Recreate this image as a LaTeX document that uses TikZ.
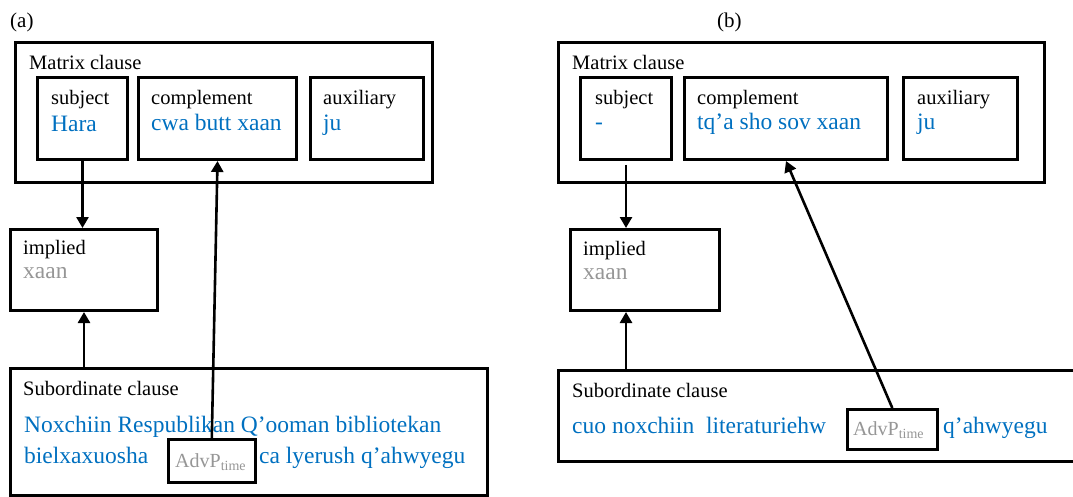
\documentclass[tikz,border=0pt]{standalone}
\usepackage{fontspec}
\setmainfont{Liberation Serif}
\usetikzlibrary{arrows.meta}
\definecolor{tblue}{RGB}{0,112,192}
\definecolor{tgray}{RGB}{150,150,150}
\tikzset{
  box/.style={draw, line width=3pt, rectangle, inner sep=0pt, anchor=north west},
  smallbox/.style={draw, line width=2.6pt, rectangle, inner sep=0pt, anchor=north west},
  lab/.style={inner sep=0pt, anchor=base west, font=\fontsize{20.5}{24}\selectfont},
  val/.style={inner sep=0pt, anchor=base west, text=tblue, font=\fontsize{23.5}{28}\selectfont},
  gval/.style={inner sep=0pt, anchor=base west, text=tgray, font=\fontsize{23.5}{28}\selectfont},
  advp/.style={inner sep=0pt, anchor=base west, text=tgray, font=\fontsize{20}{24}\selectfont},
  arr/.style={line width=2.6pt, -{Triangle[length=11pt,width=12pt]}},
  panel/.style={inner sep=0pt, anchor=base west, font=\fontsize{21}{25}\selectfont},
}
\newcommand{\advtext}{AdvP\textsubscript{\fontsize{14}{16}\selectfont time}}
\begin{document}
\begin{tikzpicture}[x=1pt,y=-1pt]
\useasboundingbox (0,0) rectangle (1073,497);
\clip (0,0) rectangle (1073,497);
% ---------------- panel (a)
\node[panel] (pa) at (10,28) {(a)};
\node[box, minimum width=417pt, minimum height=140pt] (matA) at (14,41) {};
\node[lab] (matAl) at (29,70) {Matrix clause};
\node[box, minimum width=90pt, minimum height=82pt] (subjA) at (36,76) {};
\node[lab] (subjAl) at (51,105) {subject};
\node[val] (subjAv) at (51,132) {Hara};
\node[box, minimum width=158pt, minimum height=82pt] (compA) at (137,76) {};
\node[lab] (compAl) at (151,105) {complement};
\node[val] (compAv) at (151,131) {cwa butt xaan};
\node[box, minimum width=113pt, minimum height=82pt] (auxA) at (309,76) {};
\node[lab] (auxAl) at (323,105) {auxiliary};
\node[val] (auxAv) at (323,131) {ju};
\node[box, minimum width=147pt, minimum height=81pt] (implA) at (9,228) {};
\node[lab] (implAl) at (23,254) {implied};
\node[gval] (implAv) at (23,278) {xaan};
\node[box, minimum width=477pt, minimum height=127pt] (subA) at (9,367) {};
\node[lab] (subAl) at (23,395) {Subordinate clause};
\node[val] (subAv1) at (24,432) {Noxchiin Respublikan Q’ooman bibliotekan};
\node[val] (subAv2) at (24,463) {bielxaxuosha};
\node[smallbox, minimum width=87pt, minimum height=43pt, fill=white] (advA) at (167,438) {};
\node[advp] (advAl) at (175,467) {\advtext};
\node[val] (subAv3) at (259,463) {ca lyerush\ q’ahwyegu};
\draw[arr] (subjA.south) -- (subjA.south |- implA.north);
\draw[arr] (implA.south |- subA.north) -- (implA.south);
\draw[arr] (advA.north) -- (compA.south);
% ---------------- panel (b)
\node[panel] (pb) at (717,28) {(b)};
\node[box, minimum width=486pt, minimum height=140pt] (matB) at (557,41) {};
\node[lab] (matBl) at (572,70) {Matrix clause};
\node[box, minimum width=91pt, minimum height=82pt] (subjB) at (579,76) {};
\node[lab] (subjBl) at (595,105) {subject};
\node[val] (subjBv) at (595,130) {-};
\node[box, minimum width=203pt, minimum height=82pt] (compB) at (683,76) {};
\node[lab] (compBl) at (697,105) {complement};
\node[val] (compBv) at (697,130) {tq’a sho sov xaan};
\node[box, minimum width=114pt, minimum height=82pt] (auxB) at (902,76) {};
\node[lab] (auxBl) at (917,105) {auxiliary};
\node[val] (auxBv) at (917,130) {ju};
\node[box, minimum width=149pt, minimum height=81pt] (implB) at (569,228) {};
\node[lab] (implBl) at (583,255) {implied};
\node[gval] (implBv) at (583,279) {xaan};
\node[box, minimum width=530pt, minimum height=91pt] (subB) at (557,369) {};
\node[lab] (subBl) at (572,397) {Subordinate clause};
\node[val] (subBv1) at (572,433) {cuo noxchiin\ \ literaturiehw};
\node[smallbox, minimum width=90pt, minimum height=40pt] (advB) at (846,408) {};
\node[advp] (advBl) at (853,435) {\advtext};
\node[val] (subBv2) at (943,433) {q’ahwyegu};
\draw[arr] ([yshift=-4pt]subjB.south) -- (subjB.south |- implB.north);
\draw[arr] (subjB.south |- subB.north) -- (subjB.south |- implB.south);
\draw[arr] (advB.north) -- (compB.south);
\end{tikzpicture}
\end{document}
